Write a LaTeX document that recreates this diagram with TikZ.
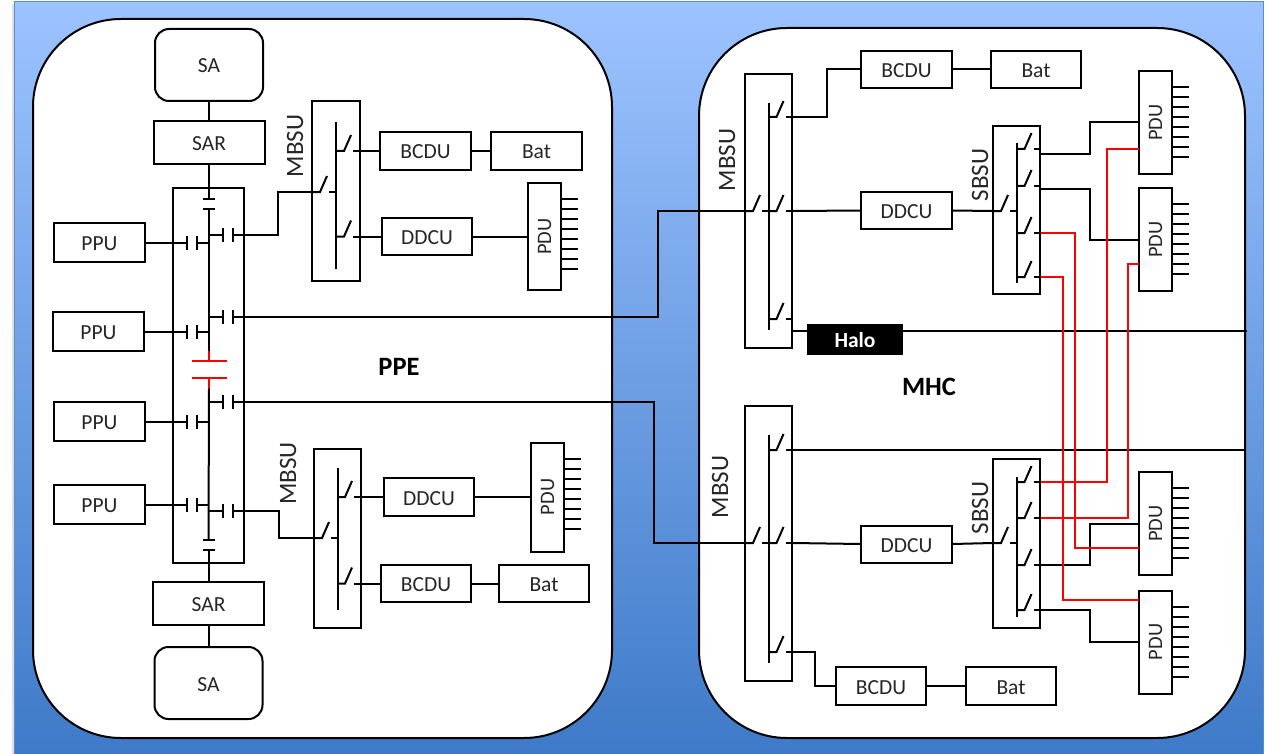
\documentclass[tikz,border=0pt]{standalone}
\usepackage{fontspec}
\setmainfont{Carlito}
\usepackage{xcolor}
\usetikzlibrary{calc,positioning}
\definecolor{skyTop}{RGB}{157,195,255}
\definecolor{skyBot}{RGB}{62,122,200}
\definecolor{skyLine}{RGB}{90,140,205}
\definecolor{myred}{RGB}{255,0,0}

\begin{document}
\begin{tikzpicture}[
  x=1pt, y=-1pt,
  every node/.style={font=\fontsize{21.5}{25}\selectfont, align=center, inner sep=0pt, outer sep=0pt, text=black!85, text height=16pt, text depth=0pt},
  wire/.style={draw=black, line width=2pt},
  redWire/.style={draw=myred, line width=2pt},
  panel/.style={draw=black, fill=white, line width=2pt, rounded corners=88pt},
  ppuBox/.style={draw, fill=white, line width=2pt, minimum width=91pt, minimum height=39pt},
  convBox/.style={draw, fill=white, line width=2pt, minimum width=91pt, minimum height=38pt},
  sarBox/.style={draw, fill=white, line width=2pt, minimum width=111pt, minimum height=43pt},
  saBox/.style={draw, fill=white, line width=2pt, rounded corners=14pt, minimum width=108pt, minimum height=72pt},
  busBox/.style={draw, line width=2pt, minimum width=47pt},
  pduBox/.style={draw, fill=white, line width=2pt, minimum width=33pt, minimum height=105pt, font=\fontsize{20.5}{24}\selectfont, text height=, text depth=},
  vLabel/.style={rotate=90, font=\fontsize{25}{29}\selectfont, text height=, text depth=},
  areaLabel/.style={font=\bfseries\fontsize{26.5}{30}\selectfont, text=black, text height=, text depth=},
  swtch/.pic={
    \draw[wire] (0,0) -- (8,0) -- (15,-16);
    \draw[wire] (17,0) -- (24,0);
    \coordinate (-in) at (0,0);
    \coordinate (-out) at (24,0);
  },
  hcap/.pic={
    \draw[wire] (-5,-7) -- (-5,7);
    \draw[wire] (5,-7) -- (5,7);
    \coordinate (-l) at (-5,0);
    \coordinate (-r) at (5,0);
  },
  vcap/.pic={
    \draw[wire] (-6,-5) -- (6,-5);
    \draw[wire] (-6,5) -- (6,5);
    \coordinate (-t) at (0,-5);
    \coordinate (-b) at (0,5);
  },
  redcap/.pic={
    \draw[redWire] (-17.5,-8.5) -- (17.5,-8.5);
    \draw[redWire] (-17.5,8.5) -- (17.5,8.5);
    \draw[redWire] (0,-19) -- (0,-8.5);
    \draw[redWire] (0,8.5) -- (0,19);
    \coordinate (-t) at (0,-19);
    \coordinate (-b) at (0,19);
  },
  ticks/.pic={
    \foreach \i in {0,...,7}
      \draw[wire] (0,16+10*\i) -- (17,16+10*\i);
  }
]
\useasboundingbox (0,0) rectangle (1265,754);
\fill[white] (0,0) rectangle (1265,754);
\fill[black!12] (12,4) rectangle (14,754);
\shade[top color=skyTop, bottom color=skyBot] (14,2) rectangle (1263,754);
\draw[skyLine, line width=1pt] (14,754) -- (14,2) -- (1263,2) -- (1263,754);

\node[panel, minimum width=579pt, minimum height=719pt] (ppe) at (322.5,378.5) {};
\node[panel, minimum width=546pt, minimum height=710pt] (mhc) at (972,383) {};

% left side
\node[saBox] (saTop) at (209,65) {SA};
\node[sarBox, below=20pt of saTop] (sarTop) {SAR};
\node[busBox, minimum width=71pt, minimum height=375pt] (bus) at (208.5,375.5) {};
\node[sarBox] (sarBot) at (208.5,603.5) {SAR};
\node[saBox, below=22pt of sarBot] (saBot) {SA};

\node[ppuBox] (ppuA) at (99.5,242.5) {PPU};
\node[ppuBox] (ppuB) at (98.5,331.5) {PPU};
\node[ppuBox] (ppuC) at (99.5,421.5) {PPU};
\node[ppuBox] (ppuD) at (99.5,504.5) {PPU};

\node[busBox, minimum width=48pt, minimum height=180pt] (mbsuA) at (336,191) {};
\node[busBox, minimum height=179pt] (mbsuB) at (337.5,538.5) {};
\node[vLabel] (lblA) at (295,146) {MBSU};
\node[vLabel] (lblB) at (288,473.5) {MBSU};

\node[convBox] (bcduA) at (425.5,151) {BCDU};
\node[convBox, right=20pt of bcduA] (batA) {Bat};
\node[convBox, minimum width=90pt, minimum height=37pt] (ddcuA) at (427,236.5) {DDCU};
\node[pduBox, right=56pt of ddcuA, minimum height=107pt] (pduA) {\rotatebox{90}{PDU}};
\node[convBox, minimum width=90pt] (ddcuB) at (429,497) {DDCU};
\node[pduBox, right=57pt of ddcuB, minimum height=109pt] (pduB) {\rotatebox{90}{PDU}};
\node[convBox, minimum width=90pt, minimum height=37pt] (bcduB) at (426,583.5) {BCDU};
\node[convBox, right=28pt of bcduB, minimum width=90pt, minimum height=37pt] (batB) {Bat};

\node[areaLabel] (lblPpe) at (399,367) {PPE};

% right side
\node[busBox, minimum height=274pt] (mbsuC) at (768.5,211) {};
\node[busBox, minimum height=275pt] (mbsuD) at (768.5,543.5) {};
\node[vLabel] (lblC) at (727,160) {MBSU};
\node[vLabel] (lblD) at (720,487) {MBSU};

\node[convBox, minimum height=37pt] (bcduC) at (906.5,69.5) {BCDU};
\node[convBox, right=39pt of bcduC, minimum width=90pt, minimum height=37pt] (batC) {Bat};
\node[convBox, minimum height=37pt] (ddcuC) at (906.5,210.5) {DDCU};
\node[convBox, minimum height=37pt] (ddcuD) at (906.5,544) {DDCU};
\node[convBox, minimum width=90pt] (bcduD) at (881,686) {BCDU};
\node[convBox, right=40pt of bcduD, minimum width=90pt] (batD) {Bat};

\node[busBox, minimum height=168pt] (sbsuA) at (1016.5,210) {};
\node[busBox, minimum height=169pt] (sbsuB) at (1016.5,543.5) {};
\node[vLabel] (lblE) at (980,175) {SBSU};
\node[vLabel] (lblF) at (980,508) {SBSU};

\node[pduBox, minimum height=103pt] (pduC) at (1155.5,122.5) {\rotatebox{90}{PDU}};
\node[pduBox, minimum height=103pt] (pduD) at (1155.5,239.5) {\rotatebox{90}{PDU}};
\node[pduBox, minimum height=103pt] (pduE) at (1155.5,523.5) {\rotatebox{90}{PDU}};
\node[pduBox, minimum height=103pt] (pduF) at (1155.5,642) {\rotatebox{90}{PDU}};

\node[areaLabel] (lblMhc) at (929,387) {MHC};

% PDU outlets
\foreach \unit in {pduA,pduB,pduC,pduD,pduE,pduF}
  \pic at (\unit.north east) {ticks};

% inner bars
\foreach \unit/\up/\dn in {mbsuA/21/12,mbsuB/19/18,mbsuC/29/18,mbsuD/29/18,sbsuA/17/11,sbsuB/18/11}
  \draw[wire] ($(\unit.north)+(0,\up)$) -- ($(\unit.south)-(0,\dn)$);

% main bus
\pic (capTop) at (209,204) {vcap};
\pic (capRed) at (209,369.5) {redcap};
\pic (capBot) at (208.5,545) {vcap};
\draw[wire] (sarTop.north |- saTop.south) -- (sarTop.north);
\draw[wire] (sarTop.south) -- (capTop-t);
\draw[wire] (capTop-b) -- (capRed-t);
\draw[wire] (capRed-b) -- (capBot-t);
\draw[wire] (capBot-b) -- (sarBot.north);
\draw[wire] (sarBot.south) -- (saBot.north);

\pic (capA) at (192,242.5) {hcap};
\pic (capB) at (192,331.5) {hcap};
\pic (capC) at (192,421.5) {hcap};
\pic (capD) at (192,504.5) {hcap};
\foreach \src/\cp in {ppuA/capA,ppuB/capB,ppuC/capC,ppuD/capD} {
  \draw[wire] (\src.east) -- (\cp-l);
  \draw[wire] (\cp-r) -- (\cp-r -| bus);
}

\pic (capE) at (227.5,235) {hcap};
\pic (capF) at (227.5,317) {hcap};
\pic (capG) at (227.5,402) {hcap};
\pic (capH) at (227.5,511) {hcap};
\foreach \cp in {capE,capF,capG,capH}
  \draw[wire] (\cp-l -| bus) -- (\cp-l);

% left MBSU units
\pic (swAin) at (312,192) {swtch};
\pic (swAa) at (336,151) {swtch};
\pic (swAb) at (336,236.5) {swtch};
\pic (swBin) at (314,538) {swtch};
\pic (swBa) at (337,497) {swtch};
\pic (swBb) at (337,583.5) {swtch};

\coordinate (laneA) at (278,0);
\coordinate (laneB) at (279,0);
\coordinate (laneP) at (658,0);
\coordinate (laneQ) at (654,0);
\draw[wire] (capE-r) -- (capE-r -| laneA) |- (swAin-in);
\draw[wire] (capH-r) -- (capH-r -| laneB) |- (swBin-in);
\draw[wire] (swAa-out) -- (bcduA.west);
\draw[wire] (bcduA.east) -- (batA.west);
\draw[wire] (swAb-out) -- (ddcuA.west);
\draw[wire] (ddcuA.east) -- (pduA.west);
\draw[wire] (swBa-out) -- (ddcuB.west);
\draw[wire] (ddcuB.east) -- (pduB.west);
\draw[wire] (swBb-out) -- (bcduB.west);
\draw[wire] (bcduB.east) -- (batB.west);

% links between the two sides
\pic (swCin) at (745,211) {swtch};
\pic (swDin) at (745,543) {swtch};
\draw[wire] (capF-r) -- (capF-r -| laneP) |- (swCin-in);
\draw[wire] (capG-r) -- (capG-r -| laneQ) |- (swDin-in);

% right MBSU units
\pic (swCa) at (768.5,117) {swtch};
\pic (swCb) at (768.5,211) {swtch};
\pic (swCc) at (768.5,319) {swtch};
\pic (swDa) at (768.5,450) {swtch};
\pic (swDb) at (768.5,543) {swtch};
\pic (swDc) at (768.5,652) {swtch};

\coordinate (laneC) at (827,0);
\coordinate (laneD) at (815,0);
\draw[wire] (swCa-out) -- (swCa-out -| laneC) |- (bcduC.west);
\draw[wire] (bcduC.east) -- (batC.west);
\draw[wire] (swCb-out) -- (ddcuC.west);
\draw[wire] (swDb-out) -- (ddcuD.west);
\draw[wire] (swDc-out) -- (swDc-out -| laneD) |- (bcduD.west);
\draw[wire] (bcduD.east) -- (batD.west);

\coordinate (haloL) at (792,331);
\coordinate (haloEnd) at (1247,331);
\draw[wire] (haloL) -- (haloEnd);
\node[fill=black, minimum width=96pt, minimum height=31pt, text=white, font=\bfseries\fontsize{21.5}{25}\selectfont] (halo) at (855,339.5) {Halo};
\coordinate (lineEnd) at (1245,450);
\draw[wire] (swDa-out) -- (lineEnd);

% SBSU units
\pic (swEin) at (993,211) {swtch};
\pic (swEa) at (1016.5,149) {swtch};
\pic (swEb) at (1016.5,186) {swtch};
\pic (swEc) at (1016.5,233) {swtch};
\pic (swEd) at (1016.5,277) {swtch};
\pic (swFin) at (993,543) {swtch};
\pic (swFa) at (1016.5,482) {swtch};
\pic (swFb) at (1016.5,518) {swtch};
\pic (swFc) at (1016.5,565) {swtch};
\pic (swFd) at (1016.5,610) {swtch};
\draw[wire] (ddcuC.east) -- (swEin-in);
\draw[wire] (ddcuD.east) -- (swFin-in);

\coordinate (laneE) at (1090,0);
\coordinate (pinC) at (1139,122);
\coordinate (pinD) at (1139,240);
\coordinate (pinE) at (1139,524);
\coordinate (pinF) at (1139,642);
\coordinate (outEa) at (1040,154);
\coordinate (outEb) at (1040,189);
\draw[wire] (outEa) -- (outEa -| laneE) |- (pinC);
\draw[wire] (outEb) -- (outEb -| laneE) |- (pinD);
\draw[wire] (swFc-out) -- (swFc-out -| laneE) |- (pinE);
\draw[wire] (swFd-out) -- (swFd-out -| laneE) |- (pinF);

% cross links
\coordinate (laneR) at (1075,0);
\coordinate (laneS) at (1063,0);
\coordinate (laneT) at (1107,0);
\coordinate (laneU) at (1128,0);
\coordinate (pinE2) at (1139,548);
\coordinate (pinF2) at (1139,600);
\coordinate (pinC2) at (1139,149);
\coordinate (pinD2) at (1139,264);
\draw[redWire] (swEc-out) -- (swEc-out -| laneR) |- (pinE2);
\draw[redWire] (swEd-out) -- (swEd-out -| laneS) |- (pinF2);
\draw[redWire] (pinC2) -- (pinC2 -| laneT) |- (swFa-out);
\draw[redWire] (pinD2) -- (pinD2 -| laneU) |- (swFb-out);
\end{tikzpicture}
\end{document}
